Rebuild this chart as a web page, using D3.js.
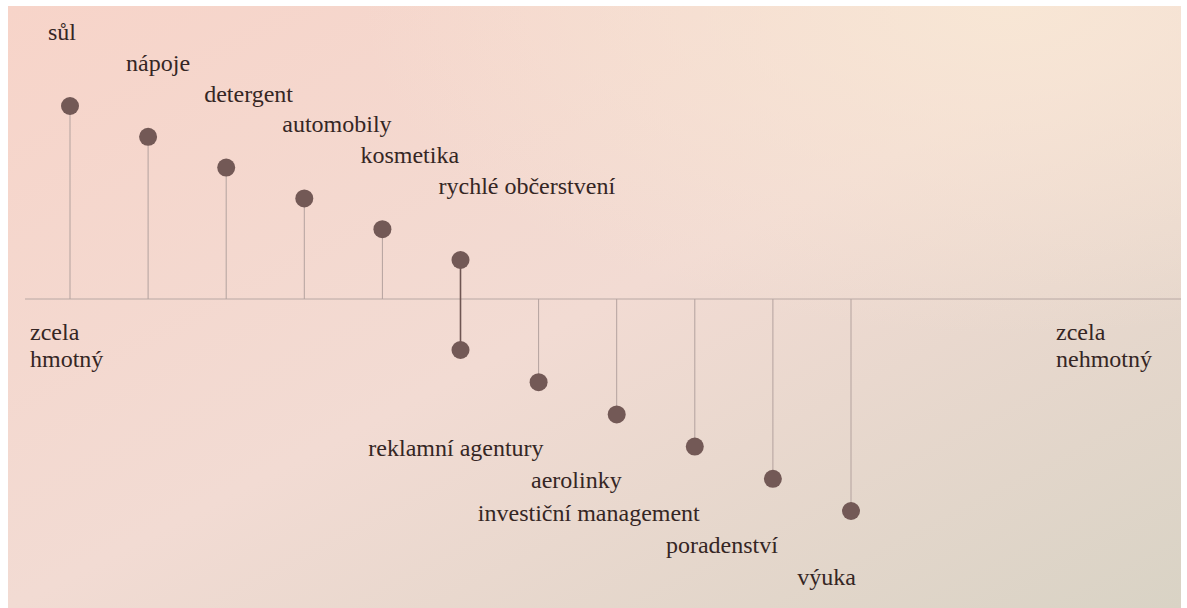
<!DOCTYPE html>
<html lang="cs">
<head>
  <meta charset="UTF-8">
  <title>Spektrum hmotnosti</title>
  <script src="https://d3js.org/d3.v7.min.js"></script>
  <style>
    body { margin: 0; background: #fff; }
    text { font-family: "Liberation Serif", "Times New Roman", serif; fill: #352624; }
  </style>
</head>
<body>
  <script>
    // 1. Data (categories in order from tangible to intangible)
    const categories = ["sůl", "nápoje", "detergent", "automobily", "kosmetika",
      "rychlé občerstvení", "reklamní agentury", "aerolinky",
      "investiční management", "poradenství", "výuka"];
    // hmotná složka (nad osou), nehmotná složka (pod osou); null = chybí
    const tangible   = [6, 5, 4, 3, 2, 1, null, null, null, null, null];
    const intangible = [null, null, null, null, null, 1, 2, 3, 4, 5, 6];
    const endLabels = [["zcela", "hmotný"], ["zcela", "nehmotný"]];

    // 2. SVG Canvas
    const width = 1187, height = 608;
    const svg = d3.select("body").append("svg")
      .attr("width", width)
      .attr("height", height);

    // photographed page background
    const defs = svg.append("defs");
    const grad = defs.append("linearGradient")
      .attr("id", "page").attr("x1", "0").attr("y1", "0").attr("x2", "1").attr("y2", "1");
    grad.append("stop").attr("offset", "0%").attr("stop-color", "#f7d4c9");
    grad.append("stop").attr("offset", "50%").attr("stop-color", "#f2dbd3");
    grad.append("stop").attr("offset", "100%").attr("stop-color", "#d9d3c5");
    const grad2 = defs.append("radialGradient")
      .attr("id", "glow").attr("cx", "0.85").attr("cy", "0.0").attr("r", "0.55");
    grad2.append("stop").attr("offset", "0%").attr("stop-color", "#f8e7d5").attr("stop-opacity", 0.95);
    grad2.append("stop").attr("offset", "100%").attr("stop-color", "#f8e7d5").attr("stop-opacity", 0);

    svg.append("rect").attr("x", 8).attr("y", 6)
      .attr("width", 1173).attr("height", height - 6).attr("fill", "url(#page)");
    svg.append("rect").attr("x", 8).attr("y", 6)
      .attr("width", 1173).attr("height", height - 6).attr("fill", "url(#glow)");

    // 3. Scales
    const x = d3.scalePoint().domain(categories).range([70, 851]);
    const y = d3.scaleLinear().domain([-6, -1, 0, 1, 6]).range([511, 350, 299, 260, 106]);

    const dotColor = "#735956";
    const up = categories.map((c, i) => ({ c, i, v: tangible[i] })).filter(d => d.v != null);
    const down = categories.map((c, i) => ({ c, i, v: intangible[i] })).filter(d => d.v != null);

    // 4. Axis line
    svg.append("line")
      .attr("x1", 25).attr("x2", 1181)
      .attr("y1", y(0)).attr("y2", y(0))
      .attr("stroke", "#b8a8a4").attr("stroke-width", 1);

    // 5. Stems
    svg.selectAll(".stem-up").data(up.filter(d => !intangible[d.i])).join("line")
      .attr("x1", d => x(d.c)).attr("x2", d => x(d.c))
      .attr("y1", d => y(d.v)).attr("y2", y(0))
      .attr("stroke", "#b3a29e").attr("stroke-width", 1);
    svg.selectAll(".stem-down").data(down.filter(d => !tangible[d.i])).join("line")
      .attr("x1", d => x(d.c)).attr("x2", d => x(d.c))
      .attr("y1", y(0)).attr("y2", d => y(-d.v))
      .attr("stroke", "#b3a29e").attr("stroke-width", 1);
    // items with both components: darker connecting bar
    svg.selectAll(".both").data(categories.filter((c, i) => tangible[i] && intangible[i])).join("line")
      .attr("x1", c => x(c)).attr("x2", c => x(c))
      .attr("y1", c => y(tangible[categories.indexOf(c)]))
      .attr("y2", c => y(-intangible[categories.indexOf(c)]))
      .attr("stroke", "#6e5552").attr("stroke-width", 1.6);

    // 6. Dots
    svg.selectAll(".dot-up").data(up).join("circle")
      .attr("cx", d => x(d.c)).attr("cy", d => y(d.v)).attr("r", 9)
      .attr("fill", dotColor);
    svg.selectAll(".dot-down").data(down).join("circle")
      .attr("cx", d => x(d.c)).attr("cy", d => y(-d.v)).attr("r", 9)
      .attr("fill", dotColor);

    // 7. Labels
    const fs = 24;
    svg.selectAll(".lab-up").data(up).join("text")
      .attr("x", d => x(d.c) - 22)
      .attr("y", d => y(d.v) - 66)
      .attr("font-size", fs)
      .text(d => d.c);
    svg.selectAll(".lab-down").data(down.filter(d => !tangible[d.i])).join("text")
      .attr("x", d => x(d.c) + 5)
      .attr("y", d => y(-d.v) + 74)
      .attr("text-anchor", "end")
      .attr("font-size", fs)
      .text(d => d.c);

    // end labels
    endLabels.forEach((lines, k) => {
      const t = svg.append("text")
        .attr("x", k === 0 ? 30 : 1056)
        .attr("y", y(0) + 41)
        .attr("font-size", fs);
      lines.forEach((s, j) => t.append("tspan")
        .attr("x", k === 0 ? 30 : 1056)
        .attr("dy", j === 0 ? 0 : 27)
        .text(s));
    });
  </script>
</body>
</html>
